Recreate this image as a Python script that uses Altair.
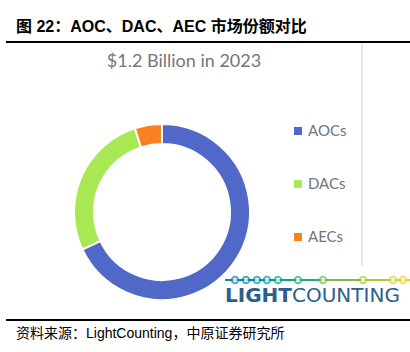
import altair as alt
import pandas as pd

# ---- data ----
categories = ["AOCs", "DACs", "AECs"]
shares = [68, 27, 5]
colors = ["#5068c8", "#a8e852", "#f7821f"]
fig_title = ["图 22：AOC、DAC、AEC 市场份额对比"]
chart_title = ["$1.2 Billion in 2023"]
source_text = ["资料来源：LightCounting，中原证券研究所"]
logo_bold = ["LIGHT"]
logo_regular = ["COUNTING"]
logo_nodes = [235, 246, 257, 267, 278, 298, 323, 363, 393, 403]

W, H = 410, 352
CJK = "Liberation Sans, Arial, Noto Sans CJK SC"

df = pd.DataFrame({"cat": categories, "share": shares, "order": list(range(len(categories)))})
one = pd.DataFrame({"k": [0]})

cat_color = alt.Color("cat:N", scale=alt.Scale(domain=categories, range=colors), legend=None)

donut = alt.Chart(df).mark_arc(
    innerRadius=68, outerRadius=88, stroke="white", strokeWidth=2
).encode(
    theta=alt.Theta("share:Q", stack=True),
    order=alt.Order("order:Q"),
    color=cat_color,
    x=alt.value(162),
    y=alt.value(212),
)

leg_y = alt.Y("order:Q", scale=alt.Scale(domain=[0, 2], range=[131, 237]), axis=None)
leg_sq = alt.Chart(df).mark_square(size=64, opacity=1).encode(
    x=alt.value(298),
    y=leg_y,
    color=cat_color,
)
leg_txt = alt.Chart(df).mark_text(
    align="left", baseline="middle", font="Lato", fontSize=15, color="#707480"
).encode(x=alt.value(308), y=leg_y, text="cat:N")

title_df = pd.DataFrame({"t": fig_title})
title_txt = alt.Chart(title_df).mark_text(
    align="left", baseline="middle", font=CJK, fontSize=16, fontWeight="bold", color="#000"
).encode(x=alt.value(16), y=alt.value(27), text="t:N")

sub_df = pd.DataFrame({"t": chart_title})
sub_txt = alt.Chart(sub_df).mark_text(
    align="center", baseline="middle", font="Lato", fontSize=18, color="#767676"
).encode(x=alt.value(184), y=alt.value(62), text="t:N")

src_df = pd.DataFrame({"t": source_text})
src_txt = alt.Chart(src_df).mark_text(
    align="left", baseline="middle", font=CJK, fontSize=14, color="#000"
).encode(x=alt.value(16), y=alt.value(334), text="t:N")

top_rule = alt.Chart(one).mark_rule(color="#000", strokeWidth=2).encode(
    x=alt.value(6), x2=alt.value(W), y=alt.value(42)
)
bot_rule = alt.Chart(one).mark_rule(color="#000", strokeWidth=2).encode(
    x=alt.value(6), x2=alt.value(W), y=alt.value(320)
)
vline = alt.Chart(one).mark_rule(color="#e2e2e2", strokeWidth=1.5).encode(
    x=alt.value(362), y=alt.value(43), y2=alt.value(266)
)

# logo
nodes = pd.DataFrame({"x": logo_nodes})
nodes["x2"] = nodes["x"].shift(-1).fillna(W)
grad = alt.Scale(domain=[logo_nodes[0], logo_nodes[-1]], range=["#1f7fa8", "#74b84a", "#e8d625"])
xpix = alt.X("x:Q", scale=alt.Scale(domain=[0, W], range=[0, W]), axis=None)
logo_line = alt.Chart(nodes).mark_rule(strokeWidth=2).encode(
    x=xpix, x2="x2:Q", y=alt.value(280),
    color=alt.Color("x:Q", scale=grad, legend=None),
)
lead = alt.Chart(one).mark_rule(strokeWidth=2, color="#1f7fa8").encode(
    x=alt.value(225), x2=alt.value(logo_nodes[0]), y=alt.value(280)
)
logo_pts = alt.Chart(nodes).mark_point(filled=True, size=42, strokeWidth=2, fill="white").encode(
    x=xpix, y=alt.value(280),
    stroke=alt.Stroke("x:Q", scale=grad, legend=None),
)
lb_df = pd.DataFrame({"t": logo_bold})
logo_b = alt.Chart(lb_df).mark_text(
    align="left", baseline="alphabetic", font="DejaVu Sans", fontSize=20, fontWeight="bold", color="#2a5f8e"
).encode(x=alt.value(225), y=alt.value(302), text="t:N")
lr_df = pd.DataFrame({"t": logo_regular})
logo_r = alt.Chart(lr_df).mark_text(
    align="left", baseline="alphabetic", font="DejaVu Sans", fontSize=20, color="#2a5f8e"
).encode(x=alt.value(292), y=alt.value(302), text="t:N")

chart = alt.layer(
    vline, donut, leg_sq, leg_txt, title_txt, sub_txt, src_txt, top_rule, bot_rule,
    lead, logo_line, logo_pts, logo_b, logo_r
).resolve_scale(color="independent").properties(
    width=W, height=H, padding=0, autosize=alt.AutoSizeParams(type="none")
).configure_view(stroke=None)

chart.save("out.html", embed_options={"renderer": "svg", "actions": False})
